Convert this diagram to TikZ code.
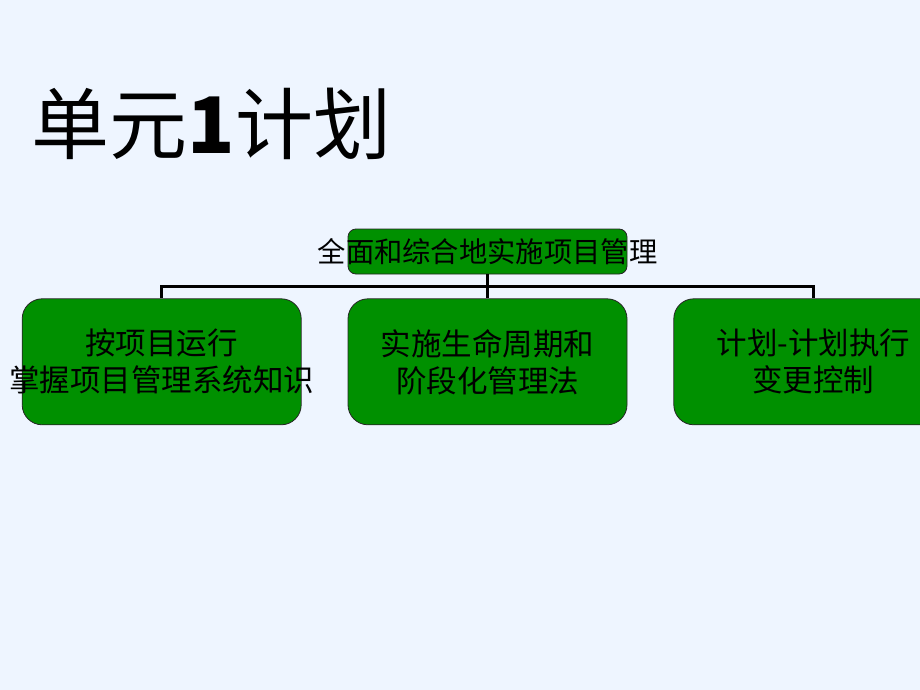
\documentclass[tikz,border=0pt]{standalone}
\usepackage{fontspec}
\setmainfont{Noto Sans CJK SC}
\newfontfamily\cjk{Noto Sans CJK SC}
\usetikzlibrary{positioning}
\definecolor{pagebg}{HTML}{EEF5FF}
\definecolor{boxgreen}{HTML}{009000}
\tikzset{
  link/.style={draw=black,line width=2.5pt},
}
\begin{document}
\begin{tikzpicture}[x=1pt,y=-1pt,
        topbox/.style={rectangle,rounded corners=8pt, draw=black!85, line width=0.8pt,
        minimum height=45pt, minimum width=279pt, fill=boxgreen, inner sep=0pt},
        phase/.style={rectangle,rounded corners=20pt, draw=black!85, line width=0.8pt,
        minimum height=126pt, minimum width=279pt, fill=boxgreen, inner sep=0pt},
        boxtext/.style={align=center, font={\cjk\fontsize{30.5}{37}\selectfont}, inner sep=0pt},
        node distance=24pt
        ]
    \useasboundingbox[fill=pagebg] (0,0) rectangle (920,690);
    \clip (0,0) rectangle (920,690);

    \node[anchor=west, font={\cjk\fontsize{78}{84}\selectfont}] (title) at (28,124) {单元{\bfseries 1}计划};

    \node[topbox] (top) at (487.5,251.5) {};
    \node[phase, below=24pt of top] (p2) {};
    \node[phase, left=46pt of p2] (p1) {};
    \node[phase, right=46pt of p2] (p3) {};

    \node[boxtext, font={\cjk\fontsize{28.3}{34}\selectfont}] (ttop) at (top) {全面和综合地实施项目管理};
    \node[boxtext] (t1) at (p1) {按项目运行\\掌握项目管理系统知识};
    \node[boxtext] (t2) at (p2) {实施生命周期和\\阶段化管理法};
    \node[boxtext] (t3) at (p3) {计划-计划执行\\变更控制};

    \draw[link] (top.south) -- ++(0,12) -| (p1.north);
    \draw[link] (top.south) -- (p2.north);
    \draw[link] (top.south) -- ++(0,12) -| (p3.north);

  \end{tikzpicture}
\end{document}
